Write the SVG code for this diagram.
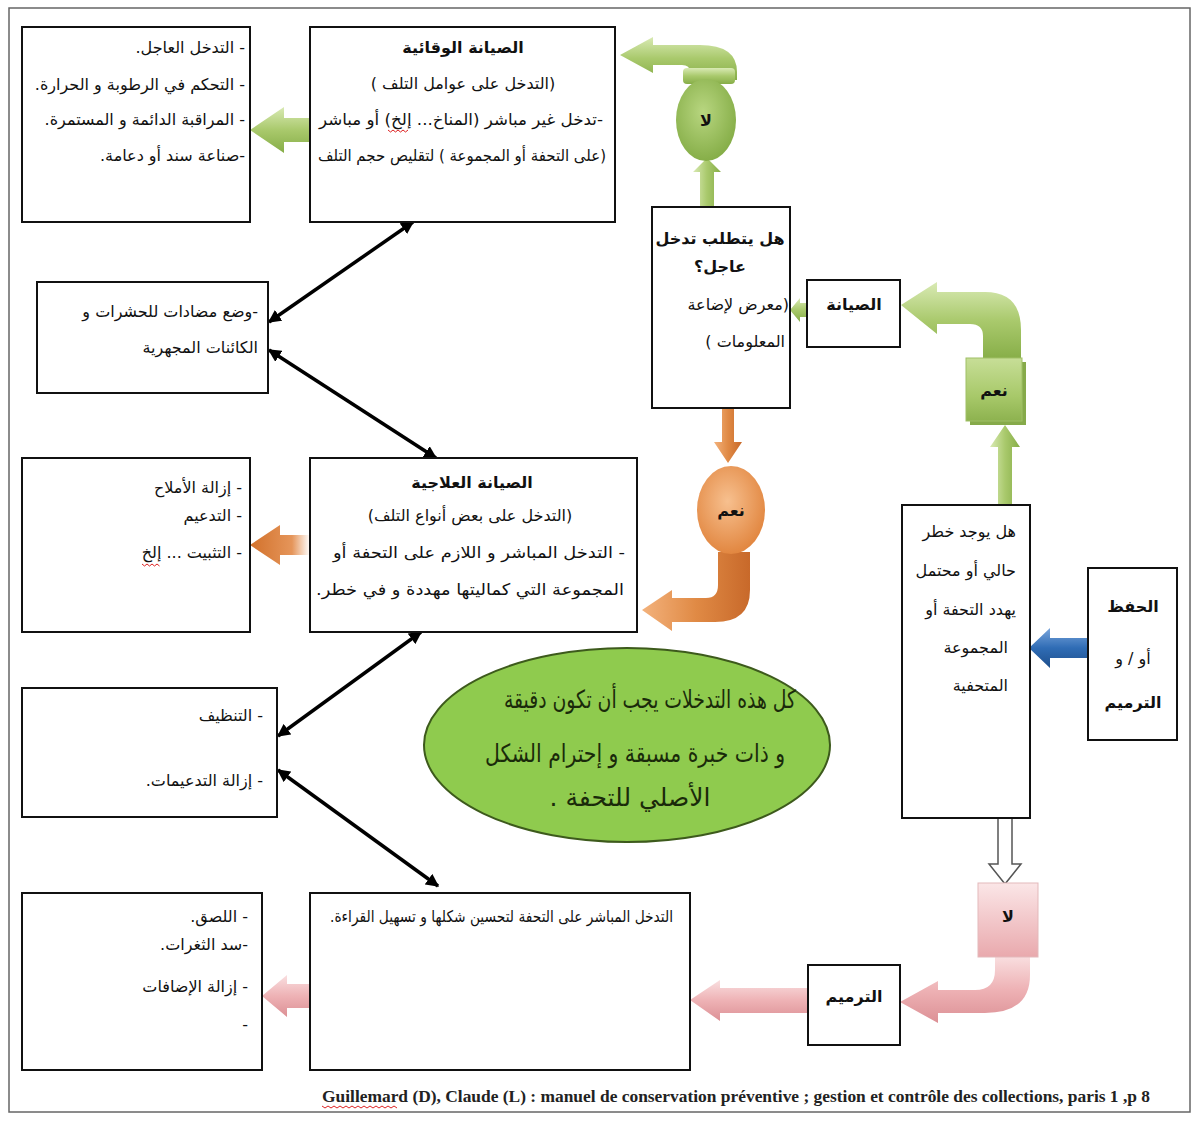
<svg xmlns="http://www.w3.org/2000/svg" width="1198" height="1123" viewBox="0 0 1198 1123">
<defs>
<linearGradient id="gH" x1="0" y1="0" x2="0" y2="1"><stop offset="0" stop-color="#d9eab4"/><stop offset="0.5" stop-color="#a9c96c"/><stop offset="1" stop-color="#86ad47"/></linearGradient>
<linearGradient id="gV" x1="0" y1="0" x2="1" y2="0"><stop offset="0" stop-color="#d9eab4"/><stop offset="0.5" stop-color="#a9c96c"/><stop offset="1" stop-color="#86ad47"/></linearGradient>
<linearGradient id="gB" x1="0" y1="0" x2="0" y2="1"><stop offset="0" stop-color="#c7de97"/><stop offset="0.6" stop-color="#a8c96a"/><stop offset="1" stop-color="#8db24f"/></linearGradient>
<radialGradient id="gE" cx="0.45" cy="0.4" r="0.6"><stop offset="0" stop-color="#b8d680"/><stop offset="1" stop-color="#86ae48"/></radialGradient>
<linearGradient id="oH" x1="1" y1="0" x2="0" y2="0"><stop offset="0" stop-color="#ffffff"/><stop offset="0.3" stop-color="#e5955a"/><stop offset="1" stop-color="#d2712b"/></linearGradient>
<linearGradient id="oV" x1="0" y1="0" x2="1" y2="0"><stop offset="0" stop-color="#f3b27c"/><stop offset="0.5" stop-color="#e08a45"/><stop offset="1" stop-color="#c8692a"/></linearGradient>
<radialGradient id="oE" cx="0.45" cy="0.4" r="0.65"><stop offset="0" stop-color="#f7c08f"/><stop offset="1" stop-color="#e0823a"/></radialGradient>
<linearGradient id="pH" x1="0" y1="0" x2="0" y2="1"><stop offset="0" stop-color="#f9dfe0"/><stop offset="0.5" stop-color="#eeb2b5"/><stop offset="1" stop-color="#dc9095"/></linearGradient>
<linearGradient id="pV" x1="0" y1="0" x2="0" y2="1"><stop offset="0" stop-color="#fbe6e7"/><stop offset="1" stop-color="#e9a9ad"/></linearGradient>
<linearGradient id="bH" x1="0" y1="0" x2="0" y2="1"><stop offset="0" stop-color="#7aa6dc"/><stop offset="0.5" stop-color="#2f6cb5"/><stop offset="1" stop-color="#1e4f8c"/></linearGradient>
<marker id="ah" viewBox="0 0 10 10" refX="9" refY="5" markerWidth="13" markerHeight="13" markerUnits="userSpaceOnUse" orient="auto-start-reverse"><path d="M0,0 L10,5 L0,10 Z" fill="#000"/></marker>
</defs>
<style>
.box{fill:#fff;stroke:#111;stroke-width:2}
.t{font-family:"DejaVu Sans",sans-serif;font-size:16px;fill:#111;direction:rtl}
.b{font-weight:bold}
.r{text-anchor:start}
.m{text-anchor:middle}
.link{stroke:#000;stroke-width:3.5;fill:none;marker-start:url(#ah);marker-end:url(#ah)}
.sq{fill:none;stroke:#d22;stroke-width:1}
.note{font-size:25px;fill:#1a2a0a}
</style>
<rect x="9" y="8" width="1181" height="1104" fill="#fff" stroke="#666" stroke-width="1.5"/>

<g id="connectors">
<line class="link" x1="413" y1="222" x2="269" y2="322"/>
<line class="link" x1="269" y1="350" x2="436" y2="458"/>
<line class="link" x1="421" y1="632" x2="278" y2="736"/>
<line class="link" x1="278" y1="770" x2="438" y2="886"/>
<path d="M250 130 L284 107 L284 118 L310 118 L310 142 L284 142 L284 153 Z" fill="url(#gH)"/>
<path d="M620 55 L653 37 L653 45 L700 45 Q737 45 737 72 L737 80 L690 80 L690 72 Q690 65 682 65 L653 65 L653 73 Z" fill="url(#gH)"/>
<path d="M700 207 L700 172 L693 172 L707 158 L721 172 L714 172 L714 207 Z" fill="url(#gV)"/>
<path d="M790 310 L800 298 L800 303 L807 303 L807 317 L800 317 L800 322 Z" fill="url(#gH)"/>
<path d="M901 305 L937 282 L937 292 L985 292 Q1021 292 1021 330 L1021 360 L983 360 L983 336 Q983 324 970 324 L937 324 L937 334 Z" fill="url(#gH)"/>
<path d="M998 505 L998 447 L990 447 L1005 425 L1020 447 L1012 447 L1012 505 Z" fill="url(#gV)"/>
<path d="M1029 648 L1050 628 L1050 638 L1088 638 L1088 658 L1050 658 L1050 668 Z" fill="url(#bH)"/>
<path d="M998 818 L998 864 L989 864 L1005 884 L1021 864 L1012 864 L1012 818" fill="#fff" stroke="#555" stroke-width="1.5"/>
<path d="M900 1002 L938 981 L938 990 L975 990 Q995 990 995 970 L995 956 L1030 956 L1030 975 Q1030 1013 985 1013 L938 1013 L938 1023 Z" fill="url(#pH)"/>
<path d="M690 1000 L720 980 L720 988 L808 988 L808 1013 L720 1013 L720 1021 Z" fill="url(#pH)"/>
<path d="M262 996 L287 975 L287 984 L310 984 L310 1008 L287 1008 L287 1017 Z" fill="url(#pH)"/>
<path d="M722 408 L722 442 L714 442 L728 463 L742 442 L734 442 L734 408 Z" fill="url(#oV)"/>
<path d="M642 610 L672 590 L672 598 L706 598 Q718 598 718 585 L718 552 L750 552 L750 590 Q750 622 715 622 L672 622 L672 631 Z" fill="url(#oV)"/>
<path d="M250 545 L280 525 L280 535 L310 535 L310 555 L280 555 L280 565 Z" fill="url(#oH)"/>
</g>

<g id="n-urgent">
<rect class="box" x="22" y="27" width="228" height="195"/>
<text class="t r" x="245" y="53">- التدخل العاجل.</text>
<text class="t r" x="245" y="90">- التحكم في الرطوبة و الحرارة.</text>
<text class="t r" x="245" y="125">- المراقبة الدائمة و المستمرة.</text>
<text class="t r" x="245" y="161">-صناعة سند أو دعامة.</text>
</g>

<g id="n-preventive">
<rect class="box" x="310" y="27" width="305" height="195"/>
<text class="t m b" x="463" y="53">الصيانة الوقائية</text>
<text class="t m" x="463" y="89">(التدخل على عوامل التلف )</text>
<text class="t m" x="461" y="125" textLength="284" lengthAdjust="spacingAndGlyphs">-تدخل غير مباشر (المناخ... إلخ) أو مباشر</text>
<text class="t m" x="462" y="161" textLength="288" lengthAdjust="spacingAndGlyphs">(على التحفة أو المجموعة ) لتقليص حجم التلف</text>
<path class="sq" d="M388 130 l2.5 2 l2.5 -2 l2.5 2 l2.5 -2 l2.5 2 l2.5 -2 l2.5 2 l2.5 -2"/>
</g>

<g id="n-no-top">
<rect x="683" y="68" width="52" height="16" rx="4" fill="url(#gH)"/>
<ellipse cx="706" cy="120" rx="30" ry="41" fill="url(#gE)"/>
<text class="t m b" x="706" y="126" font-size="18">لا</text>
</g>

<g id="n-question">
<rect class="box" x="652" y="207" width="138" height="201"/>
<text class="t m b" x="720" y="244">هل يتطلب تدخل</text>
<text class="t m b" x="720" y="272">عاجل؟</text>
<text class="t r" x="789" y="310">(معرض لإضاعة</text>
<text class="t r" x="785" y="347">المعلومات )</text>
</g>

<g id="n-maintenance">
<rect class="box" x="807" y="280" width="93" height="67"/>
<text class="t m b" x="854" y="310">الصيانة</text>
</g>

<g id="n-yes-green">
<rect x="970" y="362" width="56" height="63" fill="#86aa4a"/>
<rect x="966" y="358" width="56" height="63" fill="url(#gB)" stroke="#9fbf66" stroke-width="1"/>
<text class="t m b" x="994" y="396" font-size="19">نعم</text>
</g>

<g id="n-insects">
<rect class="box" x="37" y="282" width="231" height="111"/>
<text class="t r" x="258" y="317">-وضع مضادات للحشرات و</text>
<text class="t r" x="258" y="353">الكائنات المجهرية</text>
</g>

<g id="n-salts">
<rect class="box" x="22" y="458" width="228" height="174"/>
<text class="t r" x="242" y="493">- إزالة الأملاح</text>
<text class="t r" x="242" y="521">- التدعيم</text>
<text class="t r" x="242" y="558">- التثبيت ... إلخ</text>
<path class="sq" d="M142 564 l2.5 2 l2.5 -2 l2.5 2 l2.5 -2 l2.5 2 l2.5 -2 l2.5 2"/>
</g>

<g id="n-curative">
<rect class="box" x="310" y="458" width="327" height="174"/>
<text class="t m b" x="472" y="488">الصيانة العلاجية</text>
<text class="t m" x="470" y="521">(التدخل على بعض أنواع التلف)</text>
<text class="t m" x="479" y="558" textLength="292" lengthAdjust="spacingAndGlyphs">-  التدخل المباشر و اللازم على التحفة أو</text>
<text class="t m" x="470" y="595" textLength="308" lengthAdjust="spacingAndGlyphs">المجموعة التي كماليتها مهددة و في خطر.</text>
</g>

<g id="n-yes-orange">
<ellipse cx="731" cy="510" rx="34" ry="44" fill="url(#oE)"/>
<text class="t m b" x="731" y="516" font-size="19">نعم</text>
</g>

<g id="n-risk">
<rect class="box" x="902" y="505" width="128" height="313"/>
<text class="t r" x="1016" y="537">هل يوجد خطر</text>
<text class="t r" x="1016" y="576">حالي أو محتمل</text>
<text class="t r" x="1016" y="615">يهدد التحفة أو</text>
<text class="t r" x="1008" y="653">المجموعة</text>
<text class="t r" x="1008" y="691">المتحفية</text>
</g>

<g id="n-conservation">
<rect class="box" x="1088" y="568" width="89" height="172"/>
<text class="t m b" x="1133" y="612" font-size="30">الحفظ</text>
<text class="t m" x="1133" y="664" font-size="26">أو / و</text>
<text class="t m b" x="1133" y="708" font-size="28">الترميم</text>
</g>

<g id="n-cleaning">
<rect class="box" x="22" y="688" width="255" height="129"/>
<text class="t r" x="263" y="721">- التنظيف</text>
<text class="t r" x="263" y="786">- إزالة التدعيمات.</text>
</g>

<g id="n-note">
<ellipse cx="627" cy="745" rx="203" ry="97" fill="#8fcb4e" stroke="#3d5a1c" stroke-width="2"/>
<text class="t m note" x="650" y="708" textLength="292" lengthAdjust="spacingAndGlyphs">كل هذه التدخلات يجب أن تكون دقيقة</text>
<text class="t m note" x="635" y="762" textLength="300" lengthAdjust="spacingAndGlyphs">و ذات خبرة مسبقة و إحترام الشكل</text>
<text class="t m note" x="630" y="806">الأصلي للتحفة .</text>
</g>

<g id="n-restoration-desc">
<rect class="box" x="310" y="893" width="380" height="177"/>
<text class="t r" x="673" y="922" textLength="343" lengthAdjust="spacingAndGlyphs">التدخل المباشر على التحفة لتحسين شكلها و تسهيل القراءة.</text>
</g>

<g id="n-restoration-list">
<rect class="box" x="22" y="893" width="240" height="177"/>
<text class="t r" x="248" y="922">- اللصق.</text>
<text class="t r" x="248" y="950">-سد الثغرات.</text>
<text class="t r" x="248" y="992">- إزالة الإضافات</text>
<text class="t r" x="248" y="1030">-</text>
</g>

<g id="n-no-pink">
<rect x="978" y="883" width="60" height="74" fill="url(#pV)" stroke="#e3b9bb" stroke-width="1"/>
<text class="t m b" x="1008" y="922" font-size="20">لا</text>
</g>

<g id="n-tarmeem">
<rect class="box" x="808" y="965" width="92" height="80"/>
<text class="t m b" x="854" y="1002">الترميم</text>
</g>

<g id="citation">
<text x="322" y="1102" font-family="Liberation Serif, serif" font-weight="bold" font-size="17" textLength="828" lengthAdjust="spacingAndGlyphs" fill="#222">Guillemard (D), Claude (L) : manuel de conservation préventive ; gestion et contrôle des collections, paris 1 ,p 8</text>
<path class="sq" d="M322 1106 l3 2 l3 -2 l3 2 l3 -2 l3 2 l3 -2 l3 2 l3 -2 l3 2 l3 -2 l3 2 l3 -2 l3 2 l3 -2 l3 2 l3 -2 l3 2 l3 -2 l3 2 l3 -2 l3 2 l3 -2 l3 2 l3 -2 l3 2"/>
</g>
</svg>
